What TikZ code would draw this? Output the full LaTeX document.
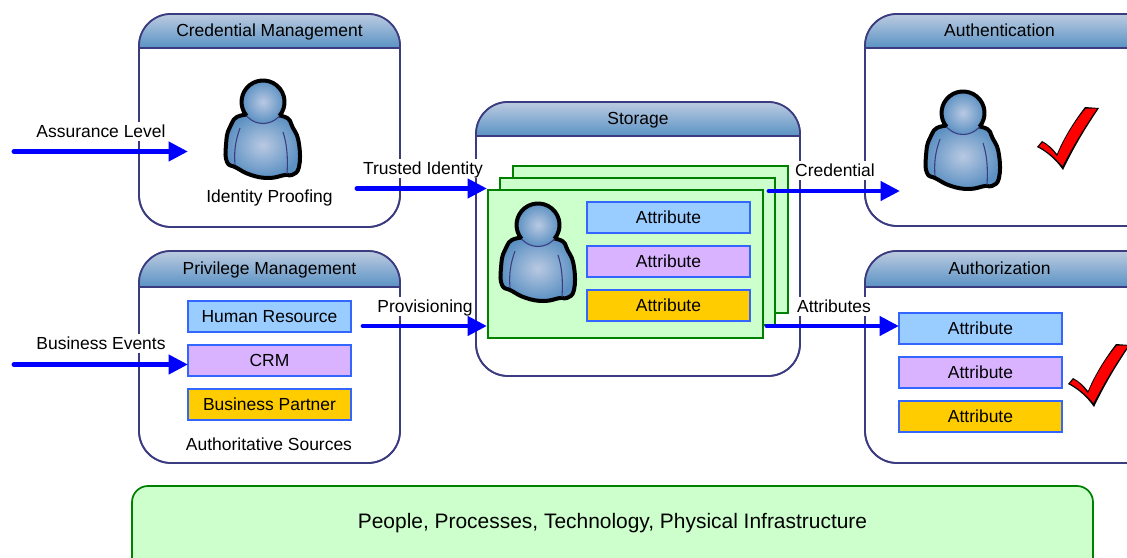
\documentclass[tikz,border=0pt]{standalone}
\usepackage{fontspec}
\setmainfont{Liberation Sans}
\usetikzlibrary{arrows.meta}
\definecolor{panelline}{HTML}{3B3B7F}
\definecolor{headtop}{HTML}{BCCBE0}
\definecolor{headbot}{HTML}{5A92C4}
\definecolor{persin}{HTML}{B9C9E2}
\definecolor{persout}{HTML}{5B90C2}
\definecolor{paleblue}{HTML}{99CCFF}
\definecolor{palepurple}{HTML}{D9B3FF}
\definecolor{gold}{HTML}{FFCC00}
\definecolor{boxline}{HTML}{3366FF}
\definecolor{palegreen}{HTML}{CCFFCC}
\definecolor{darkgr}{HTML}{008000}
\tikzset{
  x=0.75pt,y=-0.75pt,
  textline/.style={font=\fontsize{13.1}{15}\selectfont,text height=11.5pt,text depth=2.2pt},
  panelbox/.style={draw=panelline,line width=1.3pt,fill=white,rounded corners=24pt,inner sep=0pt,outer sep=0pt},
  paneltitle/.style={textline,text=black,inner sep=0pt},
  attrbox/.style={textline,draw=boxline,line width=1.25pt,inner sep=0pt,outer sep=0pt,minimum width=122pt,minimum height=23.2pt},
  cardbox/.style={draw=darkgr,fill=palegreen,line width=1.3pt,inner sep=0pt,outer sep=0pt,minimum width=206pt,minimum height=110.5pt},
  flowlabel/.style={textline,fill=white,inner sep=0pt},
  plaintext/.style={textline,inner sep=0pt},
  flow/.style={draw=blue,line width=3.7pt,line cap=round,-{Triangle[length=14.5pt,width=14pt]}},
}
% name, x1, y1, x2, y2, header bottom
\newcommand{\panelshape}[6]{%
  \pgfmathsetmacro{\pw}{(#4-#2)*0.75}%
  \pgfmathsetmacro{\ph}{(#5-#3)*0.75}%
  \pgfmathsetmacro{\pcx}{(#2+#4)/2}%
  \pgfmathsetmacro{\pcy}{(#3+#5)/2}%
  \node[panelbox,minimum width=\pw pt,minimum height=\ph pt] (#1) at (\pcx,\pcy) {};
  \begin{scope}
    \clip[rounded corners=24pt] (#2,#3) rectangle (#4,#5);
    \shade[top color=headtop,bottom color=headbot] (#2,#3) rectangle (#4,#6);
    \draw[panelline,line width=1.3pt] (#2,#6) -- (#4,#6);
  \end{scope}
  \draw[panelline,line width=1.3pt,rounded corners=24pt] (#2,#3) rectangle (#4,#5);
}
\newcommand{\personicon}[2]{%
  \begin{scope}[shift={(#1,#2)}]
    \draw[black,line width=3pt,line join=round,inner color=persin,outer color=persout]
      plot[smooth cycle,tension=0.75] coordinates {(-20,13) (-33,25) (-37,43) (-36,60) (-27,65.5) (-12,73) (6,76) (22,73) (29,73) (36,65) (36,42) (30,26) (19,14)};
    \draw[panelline,line width=0.8pt] (-23,26) .. controls (-28,40) and (-29,50) .. (-28,63);
    \draw[panelline,line width=0.8pt] (20,30) .. controls (24,42) and (25,55) .. (24,72);
    \shade[inner color=persin,outer color=persout] (0,0) circle (21.5);
    \draw[panelline,line width=0.8pt] (0,0) circle (21.5);
    \draw[black,line width=3pt] (16.5,13.8) arc[start angle=40,end angle=-220,radius=21.5];
  \end{scope}
}
\newcommand{\checkicon}[2]{%
  \begin{scope}[shift={(#1,#2)}]
    \fill[black] (0,40) -- (5,34) .. controls (11,37) and (16,42) .. (20,47) .. controls (27,30) and (38,13) .. (48,0) -- (62,1) .. controls (52,16) and (40,34) .. (26,63) .. controls (19,53) and (10,45) .. (0,40) -- cycle;
    \fill[red] (2,39.5) -- (5.5,35.5) .. controls (11,38) and (16,44) .. (20,49.5) .. controls (27,32) and (38,14) .. (49,1.5) -- (60,1.5) .. controls (51,15) and (39,33) .. (25.5,59) .. controls (18,50) and (10,44) .. (2,39.5) -- cycle;
  \end{scope}
}
\begin{document}
\begin{tikzpicture}
\clip (0,0) rectangle (1127,557);
\fill[white] (0,0) rectangle (1127,557);
% panels
\panelshape{credp}{139}{14}{400}{227}{48}
\panelshape{privp}{139}{251}{400}{463}{287}
\panelshape{storp}{476}{102}{800}{376}{136}
\panelshape{authp}{865}{14}{1160}{226}{48}
\panelshape{azp}{865}{251}{1160}{463}{287}
\node[paneltitle] (credt) at (269.5,30.5) {Credential Management};
\node[paneltitle] (privt) at (269.5,268.5) {Privilege Management};
\node[paneltitle] (stort) at (638,118.5) {Storage};
\node[paneltitle] (autht) at (999.5,30.5) {Authentication};
\node[paneltitle] (azt) at (999.5,268.5) {Authorization};
% bottom band
\node[draw=darkgr,fill=palegreen,line width=1.3pt,rounded corners=12pt,inner sep=0pt,minimum width=720.7pt,minimum height=75pt] (base) at (612.5,536) {};
\node[font=\fontsize{15.7}{18}\selectfont,inner sep=0pt,text height=13.5pt,text depth=2.6pt] (baset) at (612.5,521.5) {People, Processes, Technology, Physical Infrastructure};
% cards
\node[cardbox] (cardc) at (650.5,239.5) {};
\node[cardbox] (cardb) at (637.5,251.5) {};
\node[cardbox] (carda) at (625.5,264) {};
% persons and checks
\personicon{263}{102}
\personicon{538}{225}
\personicon{963}{113}
\checkicon{1037}{107}
\checkicon{1068}{344}
% attribute boxes
\node[attrbox,fill=paleblue] (s1) at (668.5,217.5) {Attribute};
\node[attrbox,fill=palepurple] (s2) at (668.5,261.5) {Attribute};
\node[attrbox,fill=gold] (s3) at (668.5,305.5) {Attribute};
\node[attrbox,fill=paleblue] (h1) at (269.5,316.5) {Human Resource};
\node[attrbox,fill=palepurple] (h2) at (269.5,360.5) {CRM};
\node[attrbox,fill=gold] (h3) at (269.5,404.5) {Business Partner};
\node[attrbox,fill=paleblue] (z1) at (980.5,328.5) {Attribute};
\node[attrbox,fill=palepurple] (z2) at (980.5,372.5) {Attribute};
\node[attrbox,fill=gold] (z3) at (980.5,416.5) {Attribute};
\node[plaintext] (idp) at (269.5,196.5) {Identity Proofing};
\node[plaintext] (auths) at (269,444.5) {Authoritative Sources};
% flow labels
\node[flowlabel] (l1) at (101,131.5) {Assurance Level};
\node[flowlabel] (l2) at (101,343.5) {Business Events};
\node[flowlabel] (l3) at (423,168.5) {Trusted Identity};
\node[flowlabel] (l4) at (425,306.5) {Provisioning};
\node[flowlabel] (l5) at (835,170.5) {Credential};
\node[flowlabel] (l6) at (834,306.5) {Attributes};
% connector ends
\coordinate (a1) at (14,151.5);
\coordinate (a2) at (188,151.5);
\coordinate (b1) at (14,364.5);
\coordinate (b2) at (188,364.5);
\coordinate (c1) at (357,188.5);
\coordinate (c2) at (487,188.5);
\coordinate (d1) at (363,326);
\coordinate (d2) at (487,326);
\coordinate (e1) at (769,191);
\coordinate (e2) at (900,191);
\coordinate (f1) at (767,326);
\coordinate (f2) at (899,326);
\draw[flow] (a1) -- (a2);
\draw[flow] (b1) -- (b2);
\draw[flow] (c1) -- (c2);
\draw[flow] (d1) -- (d2);
\draw[flow] (e1) -- (e2);
\draw[flow] (f1) -- (f2);
\end{tikzpicture}
\end{document}
